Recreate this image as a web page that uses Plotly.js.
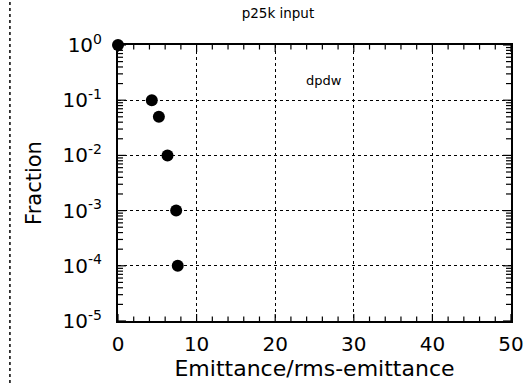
<!DOCTYPE html>
<html><head><meta charset="utf-8">
<script src="https://cdn.plot.ly/plotly-3.0.1.min.js"></script>
<style>html,body{margin:0;padding:0;background:#fff;}</style>
</head><body><div id="chart" style="width:524px;height:383px;"></div>
<script>
const emittance = [0, 4.3, 5.2, 6.3, 7.4, 7.6];
const fraction = [1, 0.1, 0.05, 0.01, 0.001, 0.0001];
const yTickVals = [1, 0.1, 0.01, 0.001, 0.0001, 0.00001];
const yTickText = ['10<sup>0</sup>','10<sup>-1</sup>','10<sup>-2</sup>','10<sup>-3</sup>','10<sup>-4</sup>','10<sup>-5</sup>'];
const xTickVals = [0, 10, 20, 30, 40, 50];
const titleText = 'p25k input';
const noteText = 'dpdw';

const FONT = 'DejaVu Sans, sans-serif';
const W = 524, H = 383, M = {l: 118, r: 13, t: 45, b: 62};
const xRange = [0, 50], yRangeLog = [-5, 0];
const pxPerX = (W - M.l - M.r) / (xRange[1] - xRange[0]);
const pxPerDec = (H - M.t - M.b) / (yRangeLog[1] - yRangeLog[0]);

// tick marks on all four sides, derived from the tick arrays
const xMinor = [];
for (let i = 0; i < xTickVals.length - 1; i++) for (let k = 1; k < 5; k++) xMinor.push(xTickVals[i] + k * (xTickVals[i+1] - xTickVals[i]) / 5);
const yMinor = [];
for (let e = yRangeLog[0]; e < yRangeLog[1]; e++) for (let m = 2; m <= 9; m++) yMinor.push(m * Math.pow(10, e));

const tx = [], ty = [];
function xTick(v, len) {
  const d = len / pxPerDec;
  tx.push(v, v, null, v, v, null);
  ty.push(Math.pow(10, yRangeLog[0]), Math.pow(10, yRangeLog[0] + d), null, Math.pow(10, yRangeLog[1]), Math.pow(10, yRangeLog[1] - d), null);
}
function yTick(v, len) {
  const d = len / pxPerX;
  tx.push(xRange[0], xRange[0] + d, null, xRange[1], xRange[1] - d, null);
  ty.push(v, v, null, v, v, null);
}
xTickVals.forEach(v => xTick(v, 7));
xMinor.forEach(v => xTick(v, 4.5));
yTickVals.forEach(v => yTick(v, 8));
yMinor.forEach(v => yTick(v, 5));

const tickTrace = {
  x: tx, y: ty, type: 'scatter', mode: 'lines', connectgaps: false,
  line: {color: '#000', width: 1.2}, hoverinfo: 'skip', showlegend: false, cliponaxis: false
};
const trace = {
  x: emittance, y: fraction, type: 'scatter', mode: 'markers',
  marker: {color: '#000', size: 12, symbol: 'circle'},
  cliponaxis: false, showlegend: false
};
const layout = {
  width: W, height: H,
  margin: M,
  font: {family: FONT, color: '#000'},
  title: {text: titleText, font: {size: 13.5}, x: 0.407, xref: 'paper', xanchor: 'center', y: 0.966, yref: 'container', yanchor: 'middle'},
  xaxis: {
    range: xRange, tickmode: 'array', tickvals: xTickVals, ticktext: xTickVals.map(String),
    ticks: '', showline: true, linewidth: 2, linecolor: '#000', mirror: true,
    showgrid: true, gridcolor: '#000', griddash: 'dot', gridwidth: 1,
    zeroline: false, tickfont: {size: 20}, ticklabelstandoff: 4,
    title: {text: 'Emittance/rms-emittance', font: {size: 22}, standoff: 6}
  },
  yaxis: {
    type: 'log', range: yRangeLog, tickmode: 'array', tickvals: yTickVals, ticktext: yTickText,
    ticks: '', showline: true, linewidth: 2, linecolor: '#000', mirror: true,
    showgrid: true, gridcolor: '#000', griddash: 'dot', gridwidth: 1,
    zeroline: false, tickfont: {size: 20}, ticklabelstandoff: 10,
    title: {text: 'Fraction', font: {size: 21}, standoff: 15}
  },
  annotations: [{x: 26.2, y: -0.652, xref: 'x', yref: 'y', text: noteText, showarrow: false, font: {size: 13}}],
  shapes: [{type: 'line', xref: 'paper', yref: 'paper', x0: -0.275, x1: -0.275, y0: -0.225, y1: 1.164,
    line: {color: '#000', width: 1.5, dash: 'dot'}}]
};
Plotly.newPlot('chart', [tickTrace, trace], layout, {displayModeBar: false});
</script></body></html>
